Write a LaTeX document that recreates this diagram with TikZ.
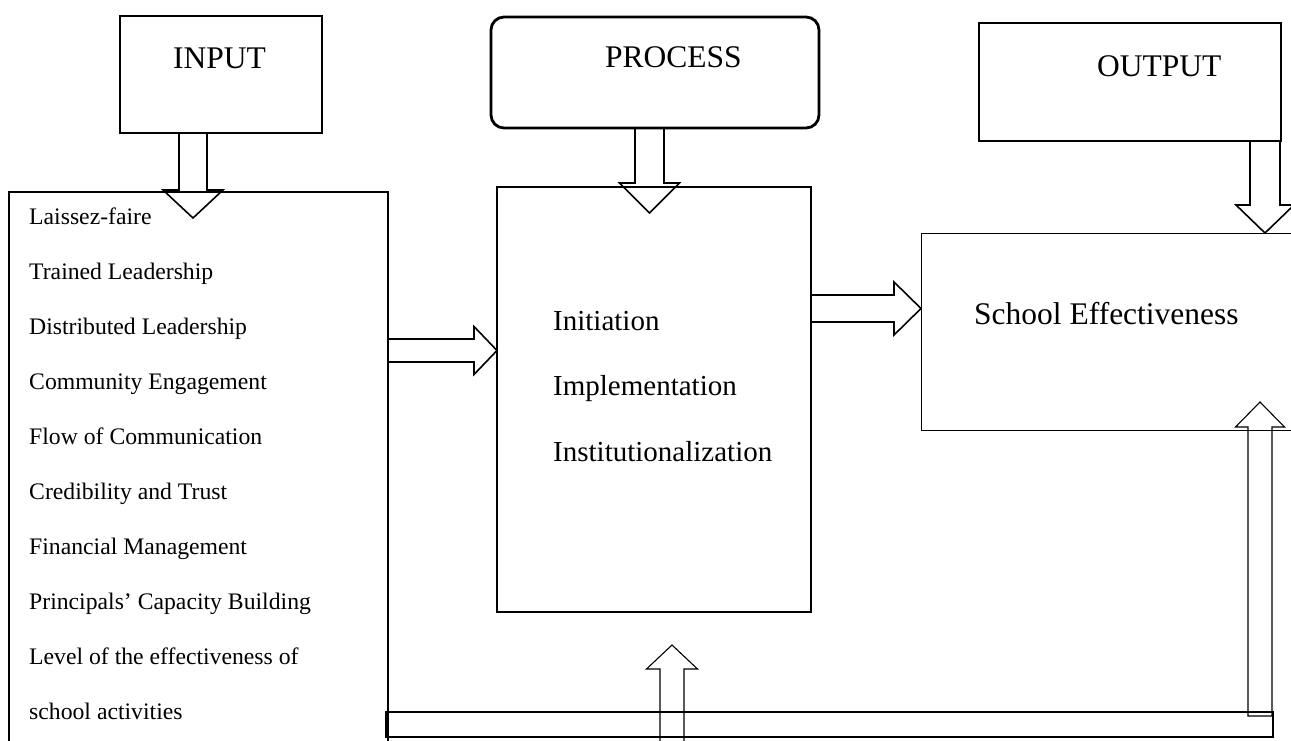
\documentclass[tikz,border=0pt]{standalone}
\usepackage{fontspec}
\setmainfont{Liberation Serif}
\usetikzlibrary{calc,positioning}

\tikzstyle{frame} = [rectangle, draw=black, line width=1.6pt, inner sep=0pt, outer sep=0pt, anchor=north west]
\tikzstyle{hollow} = [draw=black, line width=1.6pt, line join=miter]
\tikzstyle{headtext} = [font=\fontsize{31.5}{36}\selectfont, inner sep=0pt, anchor=base west]
\tikzstyle{itemtext} = [font=\fontsize{23.7}{28}\selectfont, inner sep=0pt, anchor=base west]
\tikzstyle{stagetext} = [font=\fontsize{29}{34}\selectfont, inner sep=0pt, anchor=base west]

% hollow block arrow: [style]{tail}{tip}{shaft half width}{head half width}{head length}
\newcommand{\fatarrow}[6][]{%
  \draw[hollow,#1] let \p1=(#2), \p2=(#3),
    \n1={atan2(\y2-\y1,\x2-\x1)}, \n2={veclen(\x2-\x1,\y2-\y1)} in
    [shift={(\p1)}, rotate=\n1]
    (0,-#4) -- (\n2-#6,-#4) -- (\n2-#6,-#5) -- (\n2,0) -- (\n2-#6,#5) -- (\n2-#6,#4) -- (0,#4) -- cycle;}

\begin{document}
\begin{tikzpicture}[x=1pt, y=-1pt]
        \useasboundingbox (0,0) rectangle (1291,740);

        % Headings
        \node (input) [frame, minimum width=202pt, minimum height=117pt] at (120,16) {};
        \node (process) [frame, rounded corners=13pt, line width=2.8pt, minimum width=328pt, minimum height=111pt] at (491,17) {};
        \node (output) [frame, minimum width=302pt, minimum height=118pt] at (979,23) {};
        \node (inputlbl) [headtext] at (173,68) {INPUT};
        \node (processlbl) [headtext] at (605,67) {PROCESS};
        \node (outputlbl) [headtext] at (1097,76) {OUTPUT};

        % Main boxes
        \node (factors) [frame, minimum width=379pt, minimum height=560pt] at (9,192) {};
        \node (stages) [frame, line width=1.3pt, minimum width=314pt, minimum height=425pt] at (497,187) {};
        \node (effect) [frame, line width=1pt, minimum width=390pt, minimum height=197pt] at (921,233) {};
        \node (loop) [frame, line width=1.1pt, minimum width=887pt, minimum height=25pt] at (386,712) {};

        % Input factors
        \foreach \name/\txt [count=\i from 0] in {f1/Laissez-faire, f2/Trained Leadership,
            f3/Distributed Leadership, f4/Community Engagement, f5/Flow of Communication,
            f6/Credibility and Trust, f7/Financial Management, f8/Principals’ Capacity Building,
            f9/Level of the effectiveness of, f10/school activities}
          \node (\name) [itemtext] at (29,{224+55*\i}) {\txt};

        % Process stages
        \node (initiation) [stagetext] at (553,330) {Initiation};
        \node (implementation) [stagetext] at (553,395) {Implementation};
        \node (institution) [stagetext] at (553,461) {Institutionalization};

        % Output
        \node (schooleff) [headtext] at (974,324) {School Effectiveness};

        % Block arrows
        \coordinate (inA) at ([xshift=-28pt]input.south);
        \coordinate (inB) at ($(inA |- factors.north)+(0,26)$);
        \fatarrow{inA}{inB}{14}{30}{28}

        \coordinate (prA) at ([xshift=-5.5pt]process.south);
        \coordinate (prB) at ($(prA |- stages.north)+(0,26)$);
        \fatarrow{prA}{prB}{14.5}{30}{30}

        \coordinate (outA) at ($(output.south east)+(-16,0)$);
        \coordinate (outB) at (outA |- effect.north);
        \fatarrow{outA}{outB}{15}{29}{28}

        \coordinate (fsA) at ($(factors.north east)+(0,158.5)$);
        \coordinate (fsB) at (stages.west |- fsA);
        \fatarrow{fsA}{fsB}{11.5}{24}{23}

        \coordinate (seA) at ($(stages.north east)+(0,121.5)$);
        \coordinate (seB) at (effect.west |- seA);
        \fatarrow{seA}{seB}{13.5}{26.5}{27}

        % Feedback
        \coordinate (fbA) at ($(loop.north east)+(-13,4)$);
        \coordinate (fbB) at ($(effect.south -| fbA)+(0,-28)$);
        \fatarrow[line width=1.1pt]{fbA}{fbB}{12}{24.5}{25}

        \coordinate (upA) at ($(stages.south)+(18,138)$);
        \coordinate (upB) at ($(stages.south)+(18,33)$);
        \fatarrow[line width=1.1pt]{upA}{upB}{12}{25.5}{24}
\end{tikzpicture}
\end{document}
